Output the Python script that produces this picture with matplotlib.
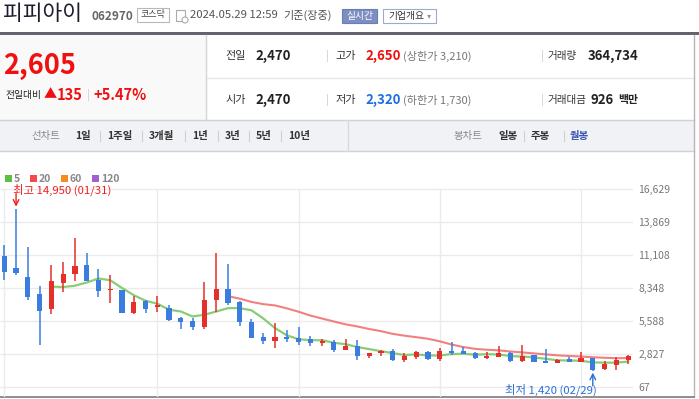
import matplotlib
matplotlib.use('Agg')
import matplotlib.pyplot as plt
from matplotlib.patches import Rectangle, Circle
import numpy as np
import pandas as pd

plt.rcParams['font.family'] = ['Noto Sans CJK KR', 'DejaVu Sans']

# 피피아이 (062970) 월봉 2019.12 ~ 2024.05
months = pd.period_range('2019-12', '2024-05', freq='M')
opens = [11020, 9990, 9240, 7820, 6590, 8760, 9520, 10250, 8970, 8130,
         8150, 6260, 7260, 6760, 6620, 5810, 5560, 5060, 7340, 8240,
         7150, 5480, 4220, 3910, 4250, 4140, 4060, 3750, 3800, 3160,
         3470, 2630, 2910, 3050, 2330, 2580, 2970, 2410, 3050, 3050,
         2910, 2470, 2580, 2910, 2240, 2720, 2240, 2070, 2410, 2160,
         2490, 1570, 1910, 2280]
highs = [11920, 14950, 11780, 8490, 10250, 10500, 12530, 11250, 9910, 9410,
         8160, 7680, 7320, 7650, 6900, 5920, 5790, 8850, 11250, 10330,
         7230, 5730, 4560, 5390, 4810, 5060, 4280, 4060, 3970, 4080,
         3970, 2910, 3140, 3220, 2880, 3030, 3050, 3300, 3800, 3410,
         2990, 2940, 3470, 2940, 3550, 2720, 3250, 2380, 2530, 2970,
         2500, 2240, 2580, 2680]
lows = [8990, 9410, 7320, 3550, 6150, 7990, 8930, 8900, 7590, 7090,
        6240, 6150, 6260, 6340, 5590, 4890, 4830, 4890, 6340, 6920,
        5170, 4140, 3640, 3330, 3830, 3550, 3470, 3470, 2970, 3130,
        2300, 2470, 2630, 2240, 2160, 2410, 2330, 2240, 2720, 2800,
        2380, 2380, 2560, 2110, 2160, 2110, 2050, 2050, 2110, 2110,
        1420, 1430, 1490, 1950]
closes = [9680, 9600, 7590, 6420, 8910, 9490, 10160, 8930, 8100, 8170,
          6260, 7150, 6590, 6900, 5650, 5500, 5060, 7320, 8240, 7070,
          5500, 4160, 3910, 4220, 4060, 3830, 3750, 3910, 3160, 3450,
          2660, 2880, 3050, 2330, 2660, 2940, 2410, 3050, 2910, 2830,
          2490, 2660, 2910, 2240, 2630, 2160, 2070, 2280, 2160, 2490,
          1500, 1960, 2280, 2605]

ma_windows = [5, 20, 60, 120]
ma_colors = ['#5cbf3f', '#ef4b4b', '#f68b1f', '#a160d0']
yticks = [67, 2827, 5588, 8348, 11108, 13869, 16629]

UP = '#e3302a'
DOWN = '#3b7ddf'

W, H = 699, 399
fig = plt.figure(figsize=(W / 100, H / 100), dpi=100)

# page frame, drawn in pixel coordinates
bg = fig.add_axes([0, 0, 1, 1])
bg.set_xlim(0, W)
bg.set_ylim(H, 0)
bg.axis('off')

# --- header
bg.text(3, 14, '피피아이', fontsize=15.5, color='#1c1c2c', va='center')
bg.text(91, 16, '062970', fontsize=8.5, fontweight='bold', color='#666666', va='center')
bg.add_patch(Rectangle((137, 8), 32, 14, fill=False, ec='#b8b8b8', lw=0.8))
bg.text(153, 15, '코스닥', fontsize=6.5, color='#444444', ha='center', va='center')
bg.add_patch(Rectangle((176, 10), 9, 11, fill=False, ec='#aaaaaa', lw=0.8))
bg.add_patch(Circle((185, 20), 3, fc='white', ec='#aaaaaa', lw=0.8))
bg.text(190, 15.5, '2024.05.29 12:59', fontsize=8.2, color='#555555', va='center')
bg.text(283, 15.5, '기준(장중)', fontsize=8, color='#555555', va='center')
bg.add_patch(Rectangle((342, 8.5), 35, 14, fc='#7d8fc2', ec='#6a7db5', lw=0.8))
bg.text(359.5, 15.5, '실시간', fontsize=7, color='white', ha='center', va='center')
bg.add_patch(Rectangle((383, 8.5), 53, 14, fc='white', ec='#9da9d2', lw=0.8))
bg.text(388, 15.5, '기업개요', fontsize=7, color='#333333', va='center')
bg.text(427, 15.5, '▾', fontsize=6, color='#999999', va='center')
bg.add_patch(Rectangle((0, 31.5), W, 3, fc='#62656c', ec='none'))

# --- price summary
bg.add_patch(Rectangle((0, 34.5), 206, 85, fc='#f9f9f9', ec='none'))
bg.plot([206, 206], [34.5, 120], color='#d5d5d5', lw=1)
bg.plot([207, 694], [78, 78], color='#e6e6e6', lw=1)
bg.text(3, 66, '2,605', fontsize=19.5, fontweight='bold', color='#f01010', va='center')
bg.text(5, 95, '전일대비', fontsize=7, color='#222222', va='center')
bg.text(44, 95, '▲', fontsize=9.5, color='#f01010', va='center')
bg.text(57, 95, '135', fontsize=10.5, fontweight='bold', color='#f01010', va='center')
bg.text(87, 95, '|', fontsize=8, color='#cccccc', va='center')
bg.text(93, 95, '+5.47%', fontsize=10.5, fontweight='bold', color='#f01010', va='center')

rows = [
    ('전일', '2,470', '고가', '2,650', '#f01010', '(상한가 3,210)', '거래량', '364,734', ''),
    ('시가', '2,470', '저가', '2,320', '#1f6fe0', '(하한가 1,730)', '거래대금', '926', '백만'),
]
for y, r in zip([56, 100], rows):
    bg.text(225, y, r[0], fontsize=8, color='#333333', va='center')
    bg.text(255, y, r[1], fontsize=9.5, fontweight='bold', color='#222222', va='center')
    bg.text(326, y, '|', fontsize=8, color='#cccccc', va='center')
    bg.text(335, y, r[2], fontsize=8, color='#333333', va='center')
    bg.text(365, y, r[3], fontsize=9.5, fontweight='bold', color=r[4], va='center')
    bg.text(403, y, r[5], fontsize=8, color='#777777', va='center')
    bg.text(541, y, '|', fontsize=8, color='#cccccc', va='center')
    bg.text(548, y, r[6], fontsize=7.6, color='#333333', va='center')
    if r[8]:
        bg.text(638, y, r[8], fontsize=7.8, fontweight='bold', color='#222222', va='center', ha='right')
        bg.text(614, y, r[7], fontsize=9.5, fontweight='bold', color='#222222', va='center', ha='right')
    else:
        bg.text(638, y, r[7], fontsize=9.5, fontweight='bold', color='#222222', va='center', ha='right')

# --- period bar
bg.add_patch(Rectangle((0, 120), 694, 31, fc='#f1f2f6', ec='none'))
bg.plot([0, 694], [120, 120], color='#cfd2d9', lw=1)
bg.plot([0, 694], [151, 151], color='#cfd2d9', lw=1)
bg.plot([348, 348], [120, 151], color='#d8dae0', lw=1)
bg.text(31, 136, '선차트', fontsize=7.5, color='#888888', va='center')
line_items = [('1일', 75), ('1주일', 107), ('3개월', 149), ('1년', 192),
              ('3년', 225), ('5년', 256), ('10년', 288)]
for k, (label, x) in enumerate(line_items):
    bg.text(x, 136, label, fontsize=7.5, fontweight='bold', color='#333333', va='center')
    if k:
        bg.plot([x - 7, x - 7], [131, 141], color='#d0d0d0', lw=0.8)
bg.text(453, 136, '봉차트', fontsize=7.5, color='#888888', va='center')
for label, x, c in [('일봉', 498, '#333333'), ('주봉', 531, '#333333'), ('월봉', 570, '#3a57b0')]:
    bg.text(x, 136, label, fontsize=7.5, fontweight='bold', color=c, va='center')
bg.plot([524, 524], [131, 141], color='#d0d0d0', lw=0.8)
bg.plot([564, 564], [131, 141], color='#d0d0d0', lw=0.8)

# right border and bottom axis line
bg.plot([694, 694], [34.5, 397], color='#b5b5b5', lw=1)
bg.plot([0, 694], [397, 397], color='#7a7a7a', lw=1.2)

# --- MA legend
lx = [5, 30, 61, 92]
for x, w, c in zip(lx, ma_windows, ma_colors):
    bg.add_patch(Rectangle((x, 175), 7, 7, fc=c, ec='none'))
    bg.text(x + 9, 178.5, str(w), fontsize=7.5, fontweight='bold', color='#888888', va='center')

# --- candle chart
upp = (yticks[-1] - yticks[0]) / 198.0   # price per pixel
step = 11.77                              # pixels per candle
y_bot = yticks[0] - (397 - 386.7) * upp
y_top = yticks[0] + (386.7 - 160) * upp
ax = fig.add_axes([0, (H - 397) / H, 633 / W, (397 - 160) / H])
ax.set_facecolor('none')
ax.set_xlim(-4.3 / step, (633 - 4.3) / step)
ax.set_ylim(y_bot, y_top)
for s in ax.spines.values():
    s.set_visible(False)

ax.hlines(yticks, *ax.get_xlim(), color='#ebebeb', lw=1, zorder=0)
ax.vlines([0, 13, 25, 37, 49], y_bot, yticks[-1], color='#ebebeb', lw=1, zorder=0)

x = np.arange(len(months))
o = np.array(opens)
c = np.array(closes)
colors = [UP if cc >= oo else DOWN for oo, cc in zip(o, c)]
ax.vlines(x, lows, highs, colors=colors, lw=1.1, zorder=2)
body = np.maximum(np.abs(c - o), 0.9 * upp)
ax.bar(x, body, bottom=np.minimum(o, c), width=0.44, color=colors, zorder=3)

s = pd.Series(closes, dtype=float)
ax.plot(x, s.rolling(5).mean(), color='#7cc766', lw=1.6, alpha=0.9, zorder=1)
ax.plot(x, s.rolling(20).mean(), color='#f06a6a', lw=1.5, alpha=0.85, zorder=1)

ax.set_xticks([])
ax.set_yticks(yticks)
ax.set_yticklabels([f'{v:,}' for v in yticks])
ax.yaxis.tick_right()
ax.tick_params(axis='y', length=0, pad=4, labelsize=7.5, labelcolor='#777777')

imax = int(np.argmax(highs))
imin = int(np.argmin(lows))
hi_date = months[imax].end_time.strftime('%m/%d')
lo_date = months[imin].end_time.strftime('%m/%d')
ax.annotate('', xy=(imax, highs[imax]), xytext=(0, 11), textcoords='offset points',
            arrowprops=dict(arrowstyle='->', color='#f02020', lw=1, shrinkA=0, shrinkB=1.5))
ax.annotate(f'최고 {highs[imax]:,} ({hi_date})', xy=(imax, highs[imax]), xytext=(-2.3, 13.5),
            textcoords='offset points', fontsize=8.2, color='#f02020', ha='left', va='center',
            annotation_clip=False)
ax.annotate('', xy=(imin, lows[imin]), xytext=(0, -11), textcoords='offset points',
            arrowprops=dict(arrowstyle='->', color='#2b6fd6', lw=1, shrinkA=0, shrinkB=1.5))
ax.annotate(f'최저 {lows[imin]:,} ({lo_date})', xy=(imin, lows[imin]), xytext=(3, -14),
            textcoords='offset points', fontsize=8.2, color='#2b6fd6', ha='right', va='center',
            annotation_clip=False)

fig.savefig('out.png', dpi=100)
